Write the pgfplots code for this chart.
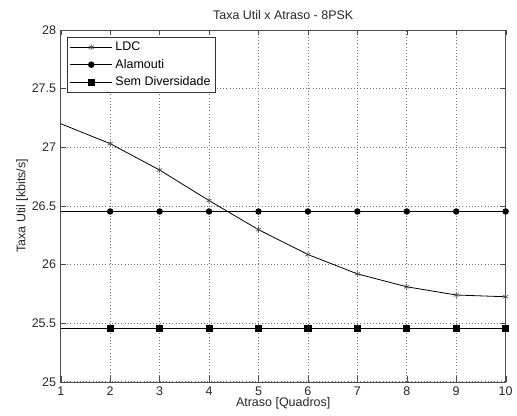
\documentclass[border=0pt]{standalone}
\usepackage{fontspec}
\setmainfont{Liberation Sans}
\usepackage{pgfplots}
\pgfplotsset{compat=1.18}

\begin{document}
\begin{tikzpicture}
\begin{axis}[
  scale only axis,
  width=335pt, height=265pt,
  xmin=1, xmax=10, ymin=25, ymax=28,
  xtick={1,...,10},
  ytick={25,25.5,...,28},
  /pgf/number format/assume math mode=true,
  yticklabel style={/pgf/number format/fixed},
  tick label style={font=\fontsize{9.4}{11}\selectfont, black!85},
  label style={font=\fontsize{9.4}{11}\selectfont, black!85},
  title style={font=\fontsize{9.4}{11}\selectfont, black!85, yshift=-2pt},
  title={Taxa Util x Atraso - 8PSK},
  xlabel={Atraso [Quadros]},
  ylabel={Taxa Util [kbits/s]},
  xlabel style={yshift=5pt},
  ylabel style={yshift=-4pt},
  axis line style={black!70},
  tick style={black!70},
  tick align=inside,
  major tick length=4pt,
  xmajorgrids, ymajorgrids,
  grid style={black!55, dotted, line width=0.5pt},
  legend cell align=left,
  legend style={draw=black!80, fill=white, font=\fontsize{9.4}{11}\selectfont,
    inner sep=1.5pt, row sep=1pt, at={(0.015,0.98)}, anchor=north west},
  legend image code/.code={
    \draw (0cm,0cm) -- (1.12cm,0cm);
    \draw plot[mark indices={1}] coordinates {(0.56cm,0cm)};
  },
]
% LDC
\addplot[black, line width=0.6pt, mark=asterisk, mark size=2.2pt,
  mark options={line width=0.5pt, black!70}, mark indices={2,...,10}]
  coordinates {
  (1,27.20) (2,27.03) (3,26.805) (4,26.545) (5,26.297)
  (6,26.085) (7,25.92) (8,25.81) (9,25.74) (10,25.725)
};
\addlegendentry{LDC}
% Alamouti
\addplot[black, line width=0.6pt, mark=*, mark size=2.1pt, mark indices={2,...,10}]
  coordinates {
  (1,26.452) (2,26.452) (3,26.452) (4,26.452) (5,26.452)
  (6,26.452) (7,26.452) (8,26.452) (9,26.452) (10,26.452)
};
\addlegendentry{Alamouti}
% Sem Diversidade
\addplot[black, line width=0.6pt, mark=square*, mark size=2.3pt, mark indices={2,...,10}]
  coordinates {
  (1,25.455) (2,25.455) (3,25.455) (4,25.455) (5,25.455)
  (6,25.455) (7,25.455) (8,25.455) (9,25.455) (10,25.455)
};
\addlegendentry{Sem Diversidade}
\end{axis}
\path ([xshift=-45.75pt,yshift=-25.5pt]current axis.south west)
  rectangle ([xshift=6.75pt,yshift=22.5pt]current axis.north east);
\end{tikzpicture}
\end{document}
